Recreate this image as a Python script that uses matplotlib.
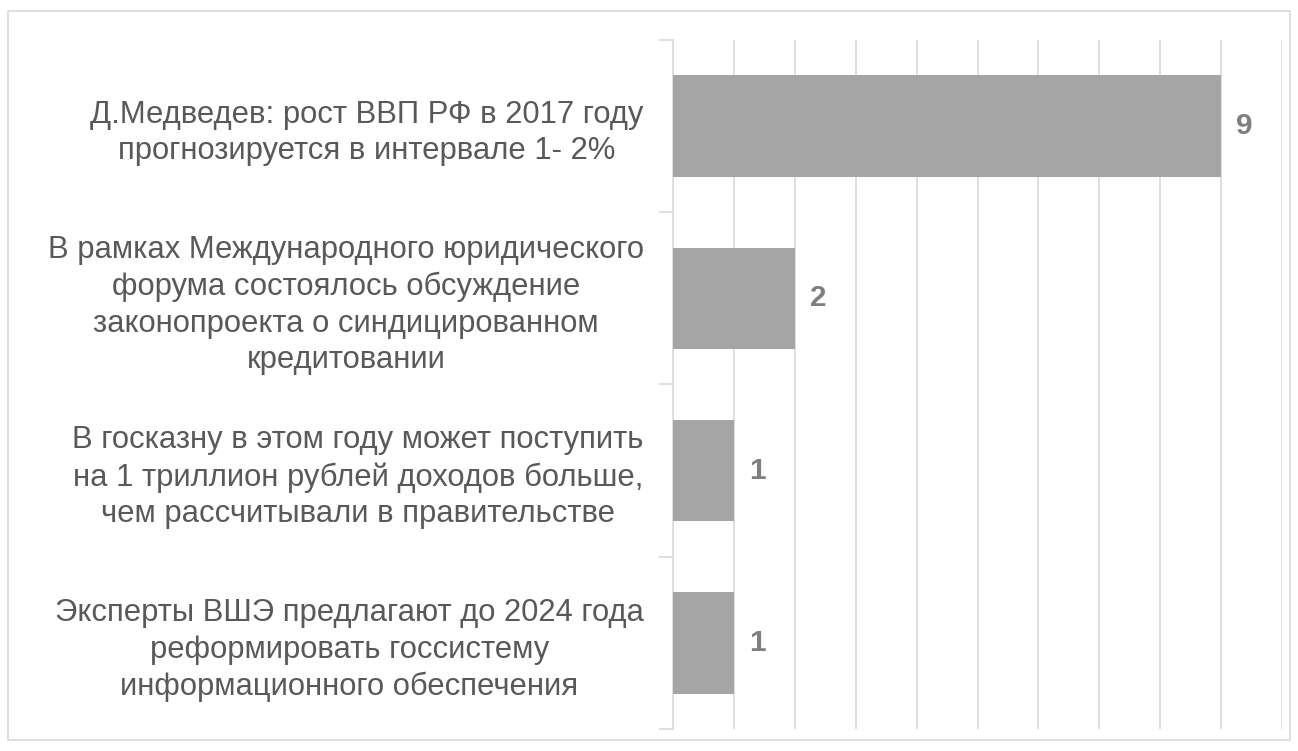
import numpy as np
import matplotlib.pyplot as plt
from matplotlib.patches import Rectangle

plt.rcParams['font.family'] = ['Liberation Sans', 'DejaVu Sans']

labels = [
    "Д.Медведев: рост ВВП РФ в 2017 году\nпрогнозируется в интервале 1- 2%",
    "В рамках Международного юридического\nфорума состоялось обсуждение\nзаконопроекта о синдицированном\nкредитовании",
    "В госказну в этом году может поступить\nна 1 триллион рублей доходов больше,\nчем рассчитывали в правительстве",
    "Эксперты ВШЭ предлагают до 2024 года\nреформировать госсистему\nинформационного обеспечения",
]
values = [9, 2, 1, 1]

fig = plt.figure(figsize=(12.98, 7.51), dpi=100)
# outer chart border
fig.patches.append(Rectangle((8 / 1298, 1 - 740 / 751), 1282 / 1298, 729 / 751,
                             transform=fig.transFigure, fill=False,
                             edgecolor='#D9D9D9', linewidth=1.2))

ax = fig.add_axes([673 / 1298, 1 - 729 / 751, 609 / 1298, 689 / 751])
y = np.arange(len(values))
ax.barh(y, values, height=0.59, color='#A5A5A5', zorder=3)

for yi, v in zip(y, values):
    ax.text(v + 0.25, yi, str(v), va='center', ha='left',
            fontsize=21.5, fontweight='bold', color='#7F7F7F')

ax.set_xlim(0, 10)
ax.set_ylim(len(values) - 0.5, -0.5)
ax.set_xticks(np.arange(0, 11, 1))
ax.xaxis.grid(True, color='#D9D9D9', linewidth=1.2, zorder=0)
ax.tick_params(axis='x', length=0, labelbottom=False)

# category labels between boundary ticks
ax.set_yticks(np.arange(-0.5, len(values), 1))
ax.set_yticklabels([])
ax.set_yticks(y, minor=True)
ax.set_yticklabels(labels, minor=True, fontsize=22.3, color='#595959',
                   ha='right', multialignment='center', linespacing=1.29)
ax.tick_params(axis='y', which='major', length=10, color='#D9D9D9', width=1.2)
ax.tick_params(axis='y', which='minor', length=0, pad=21)

for s in ['top', 'right', 'bottom']:
    ax.spines[s].set_visible(False)
ax.spines['left'].set_color('#D9D9D9')
ax.spines['left'].set_linewidth(1.2)

fig.savefig('out.png', dpi=100)
